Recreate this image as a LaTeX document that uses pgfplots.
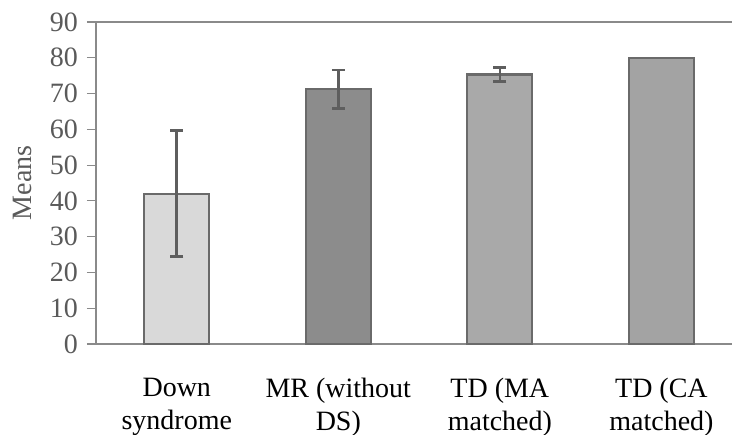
\documentclass[border=0pt]{standalone}
\usepackage{pgfplots}
\pgfplotsset{compat=1.18}
\usepackage{fontspec}
\setmainfont{Liberation Serif}
\definecolor{axgray}{HTML}{8A8A8A}
\definecolor{edgegray}{HTML}{6A6A6A}
\definecolor{errgray}{HTML}{5E5E5E}
\definecolor{tickgray}{HTML}{5A5A5A}
\begin{document}
\begin{tikzpicture}
\begin{axis}[
  scale only axis,
  width=318pt, height=161pt,
  xmin=-0.5, xmax=3.437,
  ymin=0, ymax=90,
  ytick={0,10,...,90},
  xtick={0,1,2,3},
  xticklabels={{Down\\syndrome},{MR (without\\DS)},{TD (MA\\matched)},{TD (CA\\matched)}},
  major x tick style={draw=none},
  extra x ticks={-0.5,0.5,1.5,2.5},
  extra x tick labels={},
  extra x tick style={tick style={draw=axgray, line width=0.6pt}, major tick length=4pt, tick align=outside},
  axis x line=box,
  axis y line=left,
  axis line style={draw=axgray, line width=0.8pt, -},
  y axis line style={draw=axgray, line width=0.8pt, -},
  ytick style={draw=axgray, line width=0.6pt},
  tick align=outside,
  major tick length=4.5pt,
  tick pos=left,
  /pgf/number format/assume math mode=true,
  yticklabel style={font=\fontsize{14pt}{16.5pt}\selectfont, text=tickgray, xshift=-1pt},
  xticklabel style={font=\fontsize{14pt}{16.5pt}\selectfont, align=center, text=black, yshift=-9pt},
  ylabel={Means},
  ylabel style={at={(axis description cs:-0.1164,0.5)}, rotate=0, anchor=center, font=\fontsize{14pt}{16.5pt}\selectfont, text=tickgray},
  ybar, bar width=32.5pt,
  clip=false,
]
\addplot[ybar, bar shift=0pt, fill={rgb,255:red,217;green,217;blue,217}, draw=edgegray, line width=1.1pt,
  error bars/.cd, y dir=both, y explicit, error bar style={draw=errgray, line width=1.3pt}, error mark options={draw=errgray, line width=1.3pt, mark size=3.25pt, rotate=90}]
  coordinates {(0,42) +- (0,17.6)};
\addplot[ybar, bar shift=0pt, fill={rgb,255:red,140;green,140;blue,140}, draw=edgegray, line width=1.1pt,
  error bars/.cd, y dir=both, y explicit, error bar style={draw=errgray, line width=1.3pt}, error mark options={draw=errgray, line width=1.3pt, mark size=3.25pt, rotate=90}]
  coordinates {(1,71.2) +- (0,5.4)};
\addplot[ybar, bar shift=0pt, fill={rgb,255:red,169;green,169;blue,169}, draw=edgegray, line width=1.1pt,
  error bars/.cd, y dir=both, y explicit, error bar style={draw=errgray, line width=1.3pt}, error mark options={draw=errgray, line width=1.3pt, mark size=3.25pt, rotate=90}]
  coordinates {(2,75.3) +- (0,1.9)};
\addplot[ybar, bar shift=0pt, fill={rgb,255:red,163;green,163;blue,163}, draw=edgegray, line width=1.1pt]
  coordinates {(3,80)};
\end{axis}
\pgfresetboundingbox
\path (current axis.south west) ++(-48pt,-45.5pt) coordinate (bbsw);
\path (current axis.north east) ++(0pt,11pt) coordinate (bbne);
\path[use as bounding box] (bbsw) rectangle (bbne);
\end{tikzpicture}
\end{document}
